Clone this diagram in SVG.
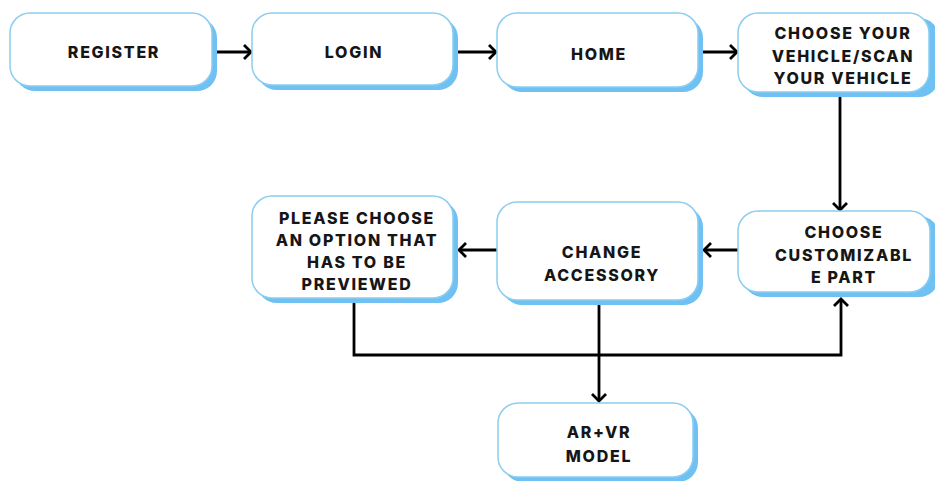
<svg xmlns="http://www.w3.org/2000/svg" width="935" height="481" viewBox="0 0 935 481">
  <style>
    .shadow { fill: #6fc1f3; }
    .box { fill: #ffffff; stroke: #8ccdf0; stroke-width: 1.5; }
    .label { font-family: Inter, "Liberation Sans", sans-serif; font-weight: 800; font-size: 16px; letter-spacing: 1.7px; fill: #161616; text-anchor: middle; }
    .wire { fill: none; stroke: #000000; stroke-width: 2.8; }
  </style>
  <defs>
    <marker id="head" markerUnits="userSpaceOnUse" markerWidth="14" markerHeight="16" refX="8" refY="7" orient="auto" overflow="visible">
      <path d="M1,0 L8,7 L1,14" fill="none" stroke="#000000" stroke-width="2.8" stroke-linejoin="miter"/>
    </marker>
  </defs>
  <rect width="935" height="481" fill="#ffffff"/>

  <g id="connectors">
    <path class="wire" d="M217,52 H251" marker-end="url(#head)"/>
    <path class="wire" d="M458,52 H496" marker-end="url(#head)"/>
    <path class="wire" d="M703,52 H737" marker-end="url(#head)"/>
    <path class="wire" d="M840,97 V210" marker-end="url(#head)"/>
    <path class="wire" d="M738,250 H704" marker-end="url(#head)"/>
    <path class="wire" d="M497,250 H459" marker-end="url(#head)"/>
    <path class="wire" d="M354,303 V355 H841 V299" marker-end="url(#head)"/>
    <path class="wire" d="M599,304 V401" marker-end="url(#head)"/>
  </g>

  <g id="register">
    <rect class="shadow" x="15" y="18" width="202" height="73" rx="20"/>
    <rect class="box" x="10" y="13" width="202" height="73" rx="20"/>
    <text class="label" x="114" y="58">REGISTER</text>
  </g>

  <g id="login">
    <rect class="shadow" x="257" y="18" width="201" height="72" rx="20"/>
    <rect class="box" x="252" y="13" width="201" height="72" rx="20"/>
    <text class="label" x="354" y="58">LOGIN</text>
  </g>

  <g id="home">
    <rect class="shadow" x="502" y="18" width="201" height="74" rx="20"/>
    <rect class="box" x="497" y="13" width="201" height="74" rx="20"/>
    <text class="label" x="599" y="59.5">HOME</text>
  </g>

  <g id="choose-vehicle">
    <rect class="shadow" x="743" y="18" width="196" height="79" rx="20"/>
    <rect class="box" x="738" y="13" width="191" height="79" rx="20"/>
    <text class="label" x="843" y="38.5">CHOOSE YOUR</text>
    <text class="label" x="843" y="61.5">VEHICLE/SCAN</text>
    <text class="label" x="843" y="83.5">YOUR VEHICLE</text>
  </g>

  <g id="choose-part">
    <rect class="shadow" x="743" y="216" width="196" height="81" rx="20"/>
    <rect class="box" x="738" y="211" width="192" height="81" rx="20"/>
    <text class="label" x="844" y="237.5">CHOOSE</text>
    <text class="label" x="844" y="260.5">CUSTOMIZABL</text>
    <text class="label" x="844" y="282.5">E PART</text>
  </g>

  <g id="change-accessory">
    <rect class="shadow" x="502" y="207" width="201" height="98" rx="20"/>
    <rect class="box" x="497" y="202" width="201" height="98" rx="20"/>
    <text class="label" x="602" y="257.5">CHANGE</text>
    <text class="label" x="602" y="280.5">ACCESSORY</text>
  </g>

  <g id="choose-option">
    <rect class="shadow" x="257" y="201" width="201" height="102" rx="20"/>
    <rect class="box" x="252" y="196" width="201" height="102" rx="20"/>
    <text class="label" x="357" y="223.5">PLEASE CHOOSE</text>
    <text class="label" x="357" y="245.5">AN OPTION THAT</text>
    <text class="label" x="357" y="267.5">HAS TO BE</text>
    <text class="label" x="357" y="289.5">PREVIEWED</text>
  </g>

  <g id="ar-vr-model">
    <rect class="shadow" x="503" y="408" width="195" height="74" rx="20"/>
    <rect class="box" x="498" y="403" width="195" height="74" rx="20"/>
    <text class="label" x="599" y="437.5">AR+VR</text>
    <text class="label" x="599" y="461.5">MODEL</text>
  </g>
</svg>
